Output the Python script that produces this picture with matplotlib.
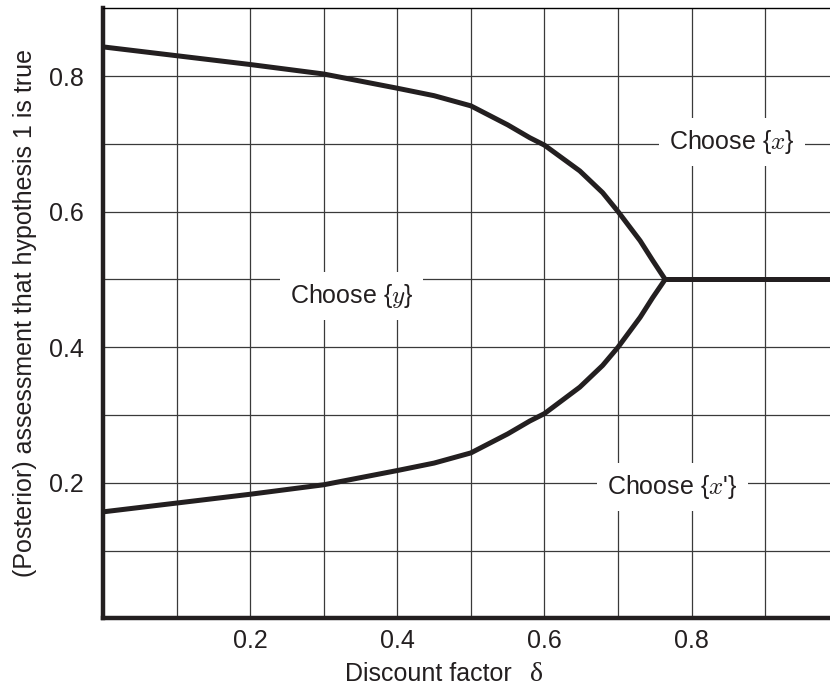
import matplotlib.pyplot as plt

plt.rcParams['font.family'] = ['Liberation Sans', 'DejaVu Sans']
plt.rcParams['mathtext.fontset'] = 'cm'

delta = [0.0, 0.1, 0.2, 0.3, 0.4, 0.45, 0.5, 0.55, 0.58, 0.6, 0.648, 0.679,
         0.7, 0.73, 0.747, 0.764]
upper = [0.843, 0.830, 0.817, 0.803, 0.782, 0.771, 0.756, 0.728, 0.709, 0.698,
         0.660, 0.628, 0.600, 0.557, 0.528, 0.5]
lower = [0.157, 0.170, 0.183, 0.197, 0.218, 0.229, 0.244, 0.272, 0.291, 0.302,
         0.341, 0.373, 0.400, 0.444, 0.473, 0.5]
flat_x = [0.764, 0.99]
flat_y = [0.5, 0.5]

labels = ['Choose {$x$}', 'Choose {$y$}', "Choose {$x$'}"]
label_x = [0.855, 0.338, 0.774]
label_y = [0.703, 0.476, 0.193]

fig = plt.figure(figsize=(8.3, 6.87), dpi=100)
ax = fig.add_axes([0.124, 0.1, 0.876, 0.888])

for ys in (upper, lower):
    ax.plot(delta, ys, color='#231f20', lw=3.6, solid_joinstyle='round', zorder=3)
ax.plot(flat_x, flat_y, color='#231f20', lw=3.6, solid_capstyle='butt', zorder=3)

ax.set_xlim(0, 0.988)
ax.set_ylim(0, 0.9)
ax.set_xticks([0.2, 0.4, 0.6, 0.8])
ax.set_xticklabels(['0.2', '0.4', '0.6', '0.8'])
ax.set_yticks([0.2, 0.4, 0.6, 0.8])
ax.set_yticklabels(['0.2', '0.4', '0.6', '0.8'])
ax.set_xticks([0.1 * i for i in range(1, 10)], minor=True)
ax.set_yticks([0.1 * i for i in range(1, 9)], minor=True)
ax.tick_params(which='both', length=0, labelsize=18, colors='#231f20')
ax.tick_params(axis='x', pad=8)
ax.tick_params(axis='y', pad=14)
ax.grid(True, which='both', color='#3a3a3a', lw=0.9)
ax.set_axisbelow(True)

for s in ['left', 'bottom']:
    ax.spines[s].set_linewidth(3.2)
    ax.spines[s].set_color('#231f20')
ax.spines['top'].set_linewidth(1.0)
ax.spines['right'].set_visible(False)

for t, x, y in zip(labels, label_x, label_y):
    ax.text(x, y, t, ha='center', va='center', fontsize=18, color='#231f20',
            bbox=dict(facecolor='white', edgecolor='none', boxstyle='square,pad=0.4'),
            zorder=4)

ax.set_xlabel('Discount factor', fontsize=18, color='#231f20')
ax.xaxis.set_label_coords(0.448, -0.071)
ax.text(0.596, -0.071, 'δ', transform=ax.transAxes, ha='center', va='top',
        fontsize=20, family=['Liberation Serif'], color='#231f20')
ax.set_ylabel('(Posterior) assessment that hypothesis 1 is true', fontsize=18,
              color='#231f20', labelpad=8)

fig.savefig('out.png', dpi=100)
